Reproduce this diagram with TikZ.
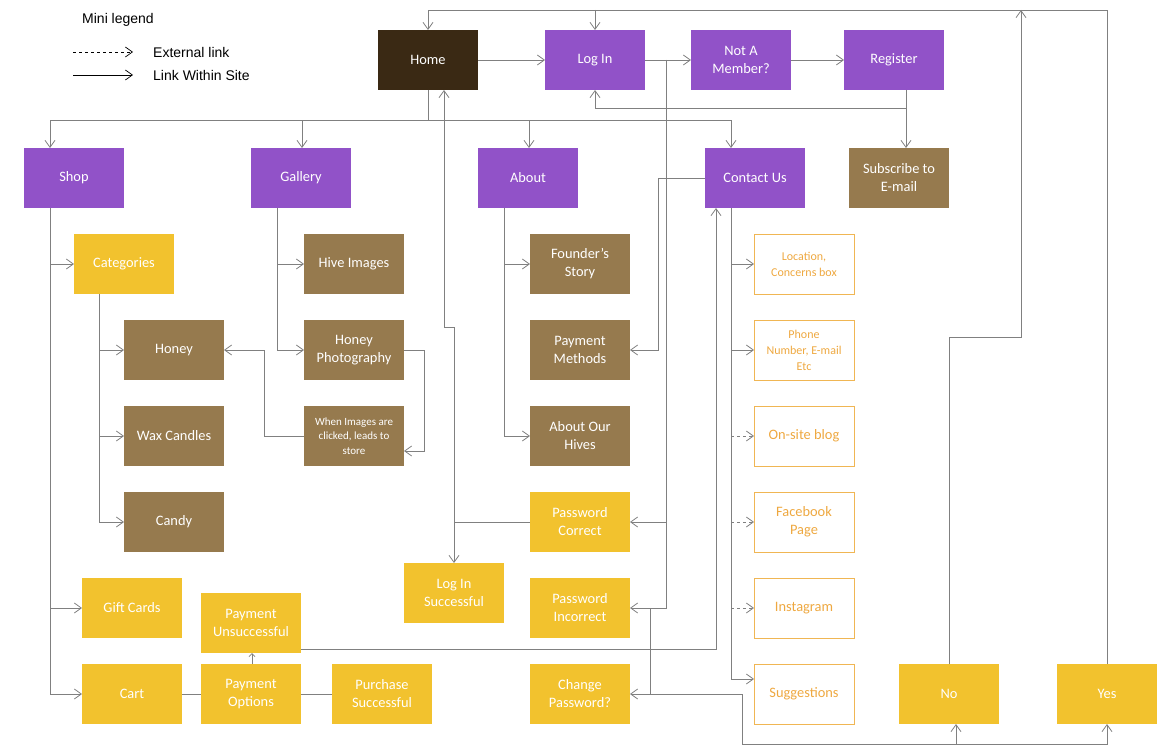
\documentclass[tikz,border=0pt]{standalone}
\usepackage{fontspec}
\setmainfont{Carlito}
\newfontfamily\legfont{Liberation Sans}
\usetikzlibrary{arrows.meta}
\definecolor{purp}{RGB}{145,82,200}
\definecolor{homec}{RGB}{58,41,20}
\definecolor{brn}{RGB}{150,122,78}
\definecolor{yel}{RGB}{242,194,46}
\definecolor{ortext}{RGB}{238,168,64}
\definecolor{orborder}{RGB}{240,182,84}
\definecolor{lgray}{RGB}{128,128,128}
\tikzset{
 box/.style={minimum width=100pt, minimum height=60pt, inner sep=1pt, outer sep=0pt, align=center, text=white, font=\fontsize{14.4}{18}\selectfont},
 hbox/.style={box, fill=homec},
 pbox/.style={box, fill=purp},
 bbox/.style={box, fill=brn},
 ybox/.style={box, fill=yel},
 obox/.style={box, draw=orborder, line width=0.8pt, text=ortext},
 conn/.style={draw=lgray, line width=0.8pt},
 arr/.style={-{Straight Barb[length=7pt,width=10pt]}},
 legarr/.style={black, line width=0.7pt, -{Straight Barb[length=7pt,width=10pt]}},
 legtext/.style={anchor=west, inner sep=0pt, font=\legfont\fontsize{14}{16}\selectfont},
}
\begin{document}
\begin{tikzpicture}[x=1pt,y=-1pt]
\useasboundingbox (0,0) rectangle (1165,749);
% legend
\node[legtext] (leg) at (82,20) {Mini legend};
\coordinate (la1) at (73,52); \coordinate (la2) at (133,52);
\coordinate (lb1) at (73,75); \coordinate (lb2) at (133,75);
\draw[legarr, dashed] (la1) -- (la2);
\draw[legarr] (lb1) -- (lb2);
\node[legtext] (legext) at (153,52) {External link};
\node[legtext] (legint) at (153,75) {Link Within Site};
% nodes
\node[hbox] (home) at (428,60) {Home};
\node[pbox] (login) at (595,60) {Log In};
\node[pbox] (notmember) at (741,60) {Not A\\Member?};
\node[pbox] (register) at (894,60) {Register};
\node[pbox] (shop) at (74,178) {Shop};
\node[pbox] (gallery) at (301,178) {Gallery};
\node[pbox] (about) at (528,178) {About};
\node[pbox] (contact) at (755,178) {Contact Us};
\node[bbox] (subscribe) at (899,178) {Subscribe to\\E-mail};
\node[ybox] (categories) at (124,264) {Categories};
\node[bbox] (hive) at (354,264) {Hive Images};
\node[bbox] (founder) at (580,264) {Founder’s\\Story};
\node[obox, font=\fontsize{12}{16}\selectfont] (location) at (804,264) {Location,\\Concerns box};
\node[bbox] (honey) at (174,350) {Honey};
\node[bbox] (honeyphoto) at (354,350) {Honey\\Photography};
\node[bbox] (paymethods) at (580,350) {Payment\\Methods};
\node[obox, font=\fontsize{12}{16}\selectfont] (phone) at (804,350) {Phone\\Number, E-mail\\Etc};
\node[bbox] (wax) at (174,436) {Wax Candles};
\node[bbox, font=\fontsize{11}{14.5}\selectfont] (when) at (354,436) {When Images are\\clicked, leads to\\store};
\node[bbox] (hives) at (580,436) {About Our\\Hives};
\node[obox] (blog) at (804,436) {On-site blog};
\node[bbox] (candy) at (174,522) {Candy};
\node[ybox] (pwcorrect) at (580,522) {Password\\Correct};
\node[obox] (facebook) at (804,522) {Facebook\\Page};
\node[ybox] (loginsucc) at (454,593) {Log In\\Successful};
\node[ybox] (giftcards) at (132,608) {Gift Cards};
\node[ybox] (payunsucc) at (251,623) {Payment\\Unsuccessful};
\node[ybox] (pwincorrect) at (580,608) {Password\\Incorrect};
\node[obox] (instagram) at (804,608) {Instagram};
\node[ybox] (cart) at (132,694) {Cart};
\node[ybox] (payopt) at (251,694) {Payment\\Options};
\node[ybox] (purchase) at (382,694) {Purchase\\Successful};
\node[ybox] (changepw) at (580,694) {Change\\Password?};
\node[obox] (suggestions) at (804,694) {Suggestions};
\node[ybox] (no) at (949,694) {No};
\node[ybox] (yes) at (1107,694) {Yes};
% top row
\draw[conn,arr] (home.east) -- (login.west);
\draw[conn,arr] (login.east) -- (notmember.west);
\draw[conn,arr] (notmember.east) -- (register.west);
% home tree
\coordinate (hj) at (428,120);
\draw[conn] (home.south) -- (hj);
\draw[conn,arr] (hj) -| ([xshift=-24pt]shop.north);
\draw[conn,arr] (hj) -| ([xshift=1pt]gallery.north);
\draw[conn,arr] (hj) -| ([xshift=1pt]about.north);
\draw[conn,arr] (hj) -| ([xshift=-24pt]contact.north);
% register
\coordinate (rj) at (906,108);
\draw[conn] ([xshift=12pt]register.south) -- (rj);
\draw[conn,arr] (rj) -| (login.south);
\draw[conn,arr] (rj) -- ([xshift=7pt]subscribe.north);
% yes / no loops
\coordinate (ytop) at (1107,10);
\draw[conn,arr] (yes.north) -- (ytop) -| (home.north);
\coordinate (ltop) at (595,10);
\draw[conn,arr] (ltop) -- (login.north);
\coordinate (nj) at (949,337);
\coordinate (nt) at (1021,10);
\draw[conn,arr] (no.north) -- (nj) -| (nt);
% login branch
\coordinate (lj) at (666,60);
\draw[conn,arr] (lj) |- (pwincorrect.east);
\draw[conn,arr] (lj) |- (pwcorrect.east);
% contact -> payment methods
\coordinate (cj) at (658,178);
\draw[conn,arr] (contact.west) -- (cj) |- (paymethods.east);
% password correct
\draw[conn,arr] (pwcorrect.west) -| (loginsucc.north);
\coordinate (pj1) at (454,522); \coordinate (pj2) at (454,327); \coordinate (pj3) at (444,327);
\draw[conn,arr] (pj1) -- (pj2) -- (pj3) -- ([xshift=16pt]home.south);
% password incorrect
\coordinate (ij) at (650,608);
\draw[conn,arr] (ij) |- (changepw.east);
\coordinate (cw1) at (650,694); \coordinate (cw2) at (742,694); \coordinate (cw3) at (742,744);
\draw[conn,arr] (cw1) -- (cw2) -- (cw3) -| ([xshift=7pt]no.south);
\draw[conn,arr] (cw3) -| (yes.south);
% contact down
\coordinate (ct) at (731,208); \coordinate (cb) at (731,694);
\draw[conn] ([xshift=-24pt]contact.south) -- (731,679);
\draw[conn,arr] (ct) |- (location.west);
\draw[conn,arr] (ct) |- (phone.west);
\draw[conn,arr] (ct) |- ([yshift=15pt]suggestions.west);
\draw[conn,arr,dashed] (blog.west -| ct) -- (blog.west);
\draw[conn,arr,dashed] (facebook.west -| ct) -- (facebook.west);
\draw[conn,arr,dashed] (instagram.west -| ct) -- (instagram.west);
% payment unsuccessful -> contact
\coordinate (uj) at (716,649);
\draw[conn,arr] ([yshift=4pt]payunsucc.south east) -- (uj) -- ([xshift=-39pt]contact.south);
% shop
\coordinate (sj) at (50,208);
\draw[conn] ([xshift=-24pt]shop.south) -- (50,694);
\draw[conn,arr] (sj) |- (categories.west);
\draw[conn,arr] (sj) |- (giftcards.west);
\draw[conn,arr] (sj) |- (cart.west);
% categories
\coordinate (gj) at (99,294);
\draw[conn,arr] (gj) |- (honey.west);
\draw[conn,arr] (gj) |- (wax.west);
\draw[conn,arr] (gj) |- (candy.west);
% gallery
\coordinate (gaj) at (277,208);
\draw[conn,arr] (gaj) |- (hive.west);
\draw[conn,arr] (gaj) |- (honeyphoto.west);
\coordinate (hpj) at (424,350);
\draw[conn,arr] (honeyphoto.east) -- (hpj) |- ([yshift=-15pt]when.east);
\coordinate (wj) at (264,436);
\draw[conn,arr] (when.west) -- (wj) |- (honey.east);
% about
\coordinate (aj) at (504,208);
\draw[conn,arr] (aj) |- (founder.west);
\draw[conn,arr] (aj) |- (hives.west);
% cart chain
\draw[conn] (cart.east) -- (payopt.west);
\draw[conn] (payopt.east) -- (purchase.west);
\draw[conn,-{Straight Barb[length=3pt,width=6pt]}] ([xshift=1pt]payopt.north) -- ([xshift=1pt]payunsucc.south);
\end{tikzpicture}
\end{document}
